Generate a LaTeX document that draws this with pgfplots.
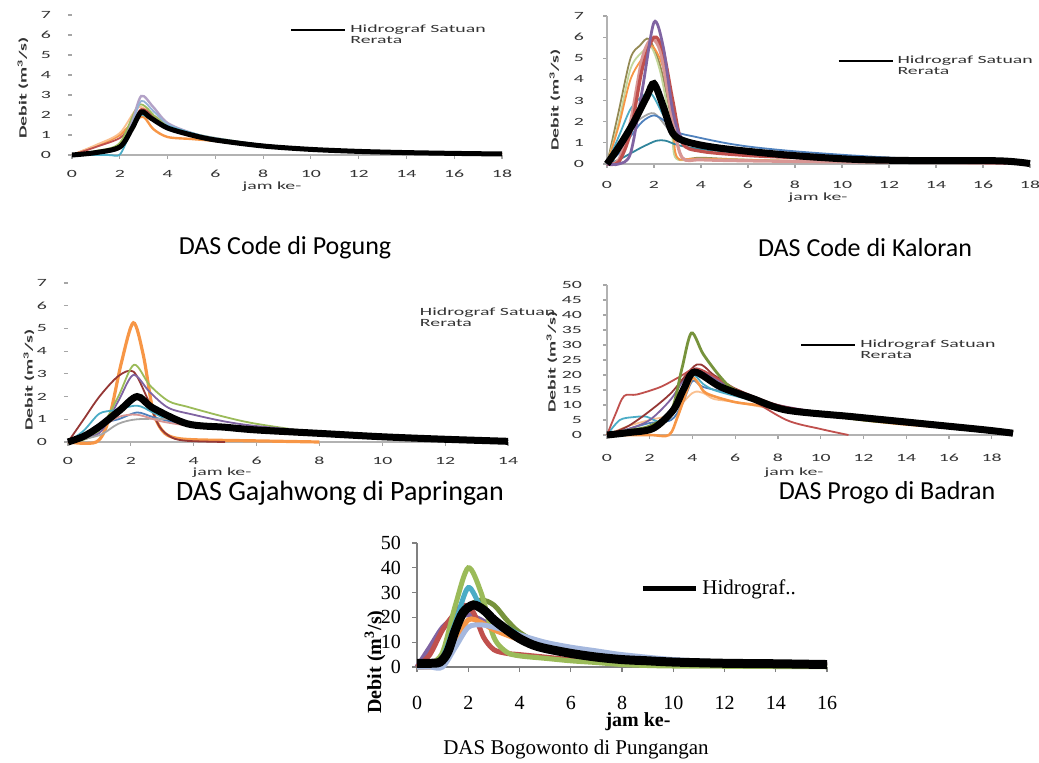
\documentclass[border=0pt]{standalone}
\usepackage{fontspec}
\setmainfont{Carlito}
\newfontfamily\blur[FakeStretch=1.8]{Carlito}
\newfontfamily\tnr{Liberation Serif}
\usepackage{pgfplots}
\pgfplotsset{compat=1.18}

\definecolor{cBlue}{HTML}{4F81BD}
\definecolor{cRed}{HTML}{C0504D}
\definecolor{cGreen}{HTML}{9BBB59}
\definecolor{cPurple}{HTML}{8064A2}
\definecolor{cAqua}{HTML}{4BACC6}
\definecolor{cOrange}{HTML}{F79646}
\definecolor{cLBlue}{HTML}{95B3D7}
\definecolor{cPink}{HTML}{D99694}
\definecolor{cLGreen}{HTML}{C3D69B}
\definecolor{cLav}{HTML}{B3A2C7}
\definecolor{cTan}{HTML}{FAC090}
\definecolor{cDRed}{HTML}{953735}
\definecolor{cDGreen}{HTML}{77933C}
\definecolor{cOlive}{HTML}{948A54}
\definecolor{cTeal}{HTML}{31859C}
\definecolor{cGray}{HTML}{A6A6A6}
\definecolor{cPale}{HTML}{A5B8DE}

\pgfplotsset{
  xl/.style={
    scale only axis, clip=false, xmin=0, ymin=0,
    axis x line=bottom, axis y line=left,
    axis line style={-, black!30, line width=0.6pt},
    tick style={black!35, line width=0.6pt}, tick align=outside, major tick length=2pt,
    ticklabel style={font=\blur\fontsize{5.5}{5.5}\selectfont, text=black!80},
    /pgf/number format/assume math mode=true,
    legend style={draw=none, fill=none, anchor=north west, inner sep=0pt,
      row sep=-0.5pt, column sep=1.5pt, cells={anchor=west}, nodes={inner sep=0.5pt},
      font=\blur\fontsize{5.5}{5.5}\selectfont, text=black!80},
    legend image code/.code={\draw[black, line width=1pt] (0pt,0pt) -- (27pt,0pt);},
    every axis plot/.append style={smooth, line width=0.9pt, forget plot},
  },
  mean/.style={black, line width=#1, smooth},
}

\begin{document}
\begin{tikzpicture}
\useasboundingbox (0,0) rectangle (519.5pt,381pt);

% ---------- DAS Code di Pogung
\begin{axis}[xl, at={(36pt,303.5pt)}, anchor=south west, width=215pt, height=70pt,
  xmax=18, ymax=7, xtick={0,2,...,18}, ytick={0,...,7},
  y axis line style={draw=none},
  xticklabel style={yshift=-2pt}, yticklabel style={xshift=-5pt},
  legend style={at={(rel axis cs:0.507,0.94)}}]
\addplot[cOrange, line width=1.2pt] coordinates {(0,0) (1,0.45) (2,1.0) (2.6,1.7) (3,1.9) (3.4,1.3) (4,0.9) (5,0.8) (6,0.7) (8,0.45) (10,0.3) (12,0.2) (14,0.12) (16,0.08) (18,0.05)};
\addplot[cTan] coordinates {(0,0) (1,0.5) (2,1.1) (2.8,2.4) (3.5,1.8) (4,1.3) (5,0.95) (6,0.75) (8,0.45) (10,0.28) (14,0.12) (18,0.05)};
\addplot[cRed] coordinates {(0,0) (1,0.4) (2,0.85) (2.5,1.5) (2.9,2.3) (3.5,1.9) (4,1.5) (5,1.05) (6,0.8) (8,0.5) (10,0.3) (12,0.2) (14,0.12) (16,0.08) (18,0.04)};
\addplot[cGreen] coordinates {(0,0) (1,0.2) (2,0.6) (2.8,2.5) (3.5,1.9) (4,1.5) (5,1.1) (6,0.85) (8,0.5) (10,0.3) (14,0.12) (18,0.05)};
\addplot[cLav, line width=1.2pt] coordinates {(0,0) (1,0.1) (2,0.35) (2.5,1.6) (2.9,2.95) (3.4,2.4) (4,1.6) (5,1.1) (6,0.8) (8,0.5) (10,0.3) (12,0.2) (14,0.1) (16,0.07) (18,0.04)};
\addplot[cLBlue] coordinates {(0,0) (1,0.15) (2,0.4) (2.5,1.5) (2.9,2.7) (3.4,2.2) (4,1.55) (5,1.1) (6,0.85) (8,0.5) (10,0.3) (12,0.2) (14,0.12) (16,0.08) (18,0.05)};
\addplot[cAqua] coordinates {(0,0) (1.5,0) (2,0.02) (2.4,1.0) (2.8,2.0) (3.3,1.8) (4,1.45) (5,1.1) (6,0.8) (8,0.5) (10,0.3) (12,0.2) (14,0.12) (16,0.08)};
\addplot[mean=2.5pt, forget plot=false] coordinates {(0,0) (1,0.12) (2,0.4) (2.5,1.3) (2.9,2.15) (3.3,1.85) (4,1.35) (5,1.0) (6,0.75) (8,0.45) (10,0.28) (12,0.18) (14,0.12) (16,0.08) (18,0.05)};
\addlegendentry{Hidrograf Satuan}
\addlegendimage{empty legend}\addlegendentry{Rerata}
\end{axis}

% ---------- DAS Code di Kaloran
\begin{axis}[xl, at={(303.5pt,299pt)}, anchor=south west, width=211.5pt, height=74pt,
  xmax=18, ymax=7, xtick={0,2,...,18}, ytick={0,...,7},
  xticklabel style={yshift=-3pt}, yticklabel style={xshift=-6pt},
  legend style={at={(rel axis cs:0.544,0.74)}}]
\addplot[cOlive] coordinates {(0,0) (0.5,2.5) (1,5.0) (1.4,5.6) (1.8,5.9) (2.3,4.5) (2.75,2.0) (2.95,0.3) (4,0.3) (6,0.2) (10,0.1) (17,0.05)};
\addplot[cLGreen] coordinates {(0,0) (0.5,2.0) (1,4.5) (1.5,5.3) (1.9,5.5) (2.3,4.2) (2.75,1.5) (2.95,0.25) (4,0.25) (6,0.2) (10,0.1) (17,0.05)};
\addplot[cOrange] coordinates {(0,0) (0.5,1.8) (1,4.0) (1.5,5.0) (1.9,5.6) (2.4,4.5) (2.8,1.8) (3,0.3) (4,0.25) (10,0.1) (17,0.05)};
\addplot[cAqua] coordinates {(0,0) (0.5,1.3) (1,2.6) (1.5,3.2) (1.9,3.3) (2.4,2.3) (3,1.2) (4,0.9) (6,0.65) (8,0.45) (10,0.3) (14,0.15) (17,0.05)};
\addplot[cGray] coordinates {(0,0) (0.5,0.8) (1,1.7) (1.5,2.2) (2,2.4) (2.5,1.8) (3,1.1) (4,0.9) (6,0.6) (8,0.4) (12,0.2) (17,0.05)};
\addplot[cBlue] coordinates {(0,0) (0.5,0.5) (1,1.3) (1.5,2.0) (2,2.3) (2.5,2.0) (3,1.5) (3.7,1.3) (5,1.0) (6.2,0.8) (8,0.6) (10.5,0.4) (13,0.25) (16.7,0.1) (17.2,0.02)};
\addplot[cTeal] coordinates {(0,0) (0.5,0.2) (1,0.5) (1.5,0.8) (2.1,1.1) (2.5,1.1) (3,0.9) (4,0.7) (6,0.5) (8,0.35) (12,0.2) (17,0.05)};
\addplot[cPink, line width=1.6pt] coordinates {(0,0) (0.5,0.2) (1,2.0) (1.5,5.0) (1.9,5.9) (2.3,5.2) (2.8,2.0) (3.2,0.3) (4,0.2) (6,0.15) (10,0.1) (17,0.05)};
\addplot[cRed, line width=1.6pt] coordinates {(0,0) (0.5,0.1) (1,1.5) (1.5,4.5) (2,6.0) (2.4,5.3) (2.8,3) (3.2,1.0) (4,0.6) (6,0.4) (8,0.3) (10,0.2) (14,0.1) (17,0.05)};
\addplot[cPurple, line width=1.4pt] coordinates {(0,0) (0.5,0) (1,0.5) (1.5,3.5) (2,6.7) (2.4,5.5) (2.8,2.5) (3.2,1.2) (4,0.9) (6,0.6) (8,0.4) (10,0.3) (12,0.2) (14,0.15) (16,0.1) (17,0.05)};
\addplot[mean=3.5pt, forget plot=false] coordinates {(0,0) (0.5,0.8) (1.1,1.9) (1.7,3.2) (2,3.8) (2.4,2.7) (2.8,1.45) (3.4,1.05) (4.8,0.75) (7.6,0.43) (10.5,0.22) (13.3,0.16) (16.7,0.15) (18,0.02)};
\addlegendentry{Hidrograf Satuan}
\addlegendimage{empty legend}\addlegendentry{Rerata}
\end{axis}

% ---------- DAS Gajahwong di Papringan
\begin{axis}[xl, at={(34pt,160pt)}, anchor=south west, width=220pt, height=79.5pt,
  xmax=14, ymax=7, xtick={0,2,...,14}, ytick={0,...,7},
  y axis line style={draw=none},
  xticklabel style={yshift=-2pt}, yticklabel style={xshift=-5pt},
  legend style={at={(rel axis cs:0.79,0.85)}}]
\addplot[cOrange, line width=1.6pt] coordinates {(0,0) (0.9,0) (1.3,1.0) (1.7,3.5) (2.08,5.25) (2.4,3.8) (2.7,1.4) (3.0,0.5) (3.35,0.2) (4,0.1) (6,0.05) (8,0)};
\addplot[cDRed] coordinates {(0,0) (0.5,1.0) (1,2.0) (1.6,2.9) (2.08,3.1) (2.5,2.0) (2.9,0.7) (3.3,0.2) (3.8,0.05) (5,0)};
\addplot[cGreen] coordinates {(0,0) (0.5,0.1) (1,0.5) (1.6,2.0) (2.1,3.4) (2.6,2.5) (3.2,1.8) (3.8,1.55) (5,1.1) (6,0.8) (8,0.4) (10,0.15) (12,0.08) (14,0.03)};
\addplot[cPurple] coordinates {(0,0) (1,0.4) (1.6,1.8) (2.08,2.95) (2.6,2.2) (3.2,1.5) (4,1.2) (5,0.9) (6,0.7) (8,0.45) (10,0.25) (12,0.12) (14,0.05)};
\addplot[cAqua] coordinates {(0,0) (0.5,0.5) (1,1.25) (1.5,1.4) (2.2,1.6) (2.7,1.3) (3.3,0.9) (4,0.75) (6,0.5) (8,0.35) (10,0.25) (12,0.15) (14,0.08)};
\addplot[cBlue] coordinates {(0,0) (0.5,0.3) (1,0.8) (1.6,1.0) (2.2,1.3) (2.7,1.1) (3.5,0.85) (5,0.65) (7,0.45) (10,0.25) (14,0.05)};
\addplot[cGray] coordinates {(0,0) (1,0.3) (1.6,0.8) (2.2,1.0) (3.3,1.0) (4,0.8) (6,0.55) (8,0.4) (10,0.25) (14,0.05)};
\addplot[cPink] coordinates {(0,0) (1,0.6) (1.6,1.1) (2.2,1.2) (3,0.9) (4,0.7) (6,0.5) (8,0.35) (11,0.2) (14,0.05)};
\addplot[mean=3.5pt] coordinates {(0,0) (0.5,0.25) (1,0.68) (1.65,1.4) (2.2,2.0) (2.7,1.5) (3.8,0.8) (5,0.65) (6,0.53) (8,0.38) (10,0.23) (12,0.12) (14,0.03)};
\addlegendimage{empty legend}\addlegendentry{Hidrograf Satuan}
\addlegendimage{empty legend}\addlegendentry{Rerata}
\end{axis}

% ---------- DAS Progo di Badran
\begin{axis}[xl, at={(303.5pt,163.5pt)}, anchor=south west, width=203pt, height=75pt,
  xmax=19, ymax=50, xtick={0,2,...,18}, ytick={0,5,...,50},
  xticklabel style={yshift=-4pt}, yticklabel style={xshift=-7pt},
  legend style={at={(rel axis cs:0.475,0.645)}}]
\addplot[cTan] coordinates {(0,0) (1,3) (2,5) (3,7) (4,14) (4.5,14) (5,12) (6,11) (8,8.5) (12,5) (16,2.5) (19,1)};
\addplot[cBlue] coordinates {(0,0) (1,2) (2,4) (3,5) (3.5,10) (4,18) (4.5,16) (6,13.5) (8,9.5) (10,7) (12,5) (14,3.8) (16,2.7) (19,1)};
\addplot[cAqua] coordinates {(0,0) (0.6,5) (1.3,6) (1.85,6.1) (2.5,4.4) (3,8) (3.5,14) (4,20) (4.5,17) (5,15) (6,13) (8,9.5) (10,7) (12,5) (14,3.8) (16,2.7) (19,1)};
\addplot[cOrange, line width=1.3pt] coordinates {(0,0) (2,0) (2.9,0) (3.3,6) (3.7,14) (4,19) (4.3,17) (4.65,13.9) (5.9,11.1) (7,10) (8,9) (10,7) (12,5) (14,3.5) (16,2.5) (19,1)};
\addplot[cPurple] coordinates {(0,0) (1,2) (2,5) (3,12) (4,22) (5,19) (6,15) (8,10) (12,5.5) (16,3) (19,1)};
\addplot[cDRed] coordinates {(0,0) (1,3) (2,8) (3,14) (4.2,23.5) (5,20) (6,15.5) (8,10) (10,7.5) (12,5.5) (14,4.2) (16,3) (19,1.2)};
\addplot[cRed] coordinates {(0,0) (0.4,7) (0.8,13) (1.4,13.5) (2.5,16) (3.4,19.4) (4.2,22.2) (5.3,18.3) (6.5,13) (8.4,5) (10,2) (11.3,0)};
\addplot[cDGreen, line width=1.4pt] coordinates {(0,0) (1,1.5) (2,3) (3,8) (3.5,22) (3.95,34) (4.5,27) (5.3,19.4) (6,15) (8,9.5) (10,7) (12,5) (14,3.8) (16,2.8) (19,1)};
\addplot[mean=3.5pt, forget plot=false] coordinates {(0,0) (1,0.8) (2.16,2.2) (3.1,8.3) (3.6,15.5) (4.1,21) (5.3,16.1) (6.8,12.2) (8.4,8.3) (11.5,6.1) (14.6,3.9) (17.7,1.7) (19,0.6)};
\addlegendentry{Hidrograf Satuan}
\addlegendimage{empty legend}\addlegendentry{Rerata}
\end{axis}

% ---------- DAS Bogowonto di Pungangan
\begin{axis}[scale only axis, clip=false, at={(208.5pt,47.5pt)}, anchor=south west,
  width=205pt, height=62pt, xmin=0, xmax=16, ymin=0, ymax=50,
  xtick={0,2,...,16}, ytick={0,10,...,50},
  axis x line=bottom, axis y line=left,
  axis line style={-, black!50, line width=0.6pt},
  tick style={black!50, line width=0.6pt}, tick align=outside, major tick length=2.5pt,
  ticklabel style={font=\tnr\fontsize{10}{10}\selectfont},
  /pgf/number format/assume math mode=true,
  xticklabel style={yshift=-8.5pt}, yticklabel style={xshift=-2pt},
  every axis plot/.append style={smooth, line width=2.5pt, forget plot},
  legend style={draw=none, fill=none, anchor=north west, inner sep=0pt,
    at={(rel axis cs:0.544,0.74)}, column sep=0pt,
    font=\tnr\fontsize{10.5}{10.5}\selectfont},
  legend image code/.code={\draw[black, line width=2.5pt] (0pt,0pt) -- (26.5pt,0pt);}]
\addplot[cPurple] coordinates {(0,0) (0.5,8) (1,16) (1.5,20) (2,21) (2.5,19) (3,16) (3.5,14) (4,12) (5,9) (6,7) (8,4) (10,2.5) (12,1.8) (14,1.3) (16,1)};
\addplot[cRed] coordinates {(0,0) (0.5,5) (1,15) (1.5,22) (1.8,25) (2.2,22) (2.6,12) (3,7) (3.5,5.5) (4,5) (5,4) (6,3) (8,2) (10,1.5) (12,1) (14,0.8) (16,0.6)};
\addplot[cDGreen] coordinates {(0,0) (0.5,1) (1,5) (1.5,15) (2,24) (2.5,27) (3,25) (3.5,19) (4,14) (5,8) (6,5) (7,3) (8,2) (10,1) (12,0.6) (16,0.3)};
\addplot[cGreen] coordinates {(0,0) (0.5,1) (1,6) (1.5,25) (2,40) (2.5,30) (3,12) (3.5,6) (4,4.5) (5,3.5) (6,2.5) (7,1.8) (8,1) (9,0.6) (10,0.4) (12,0.3) (14,0.2) (16,0.1)};
\addplot[cAqua] coordinates {(0,0) (0.5,0.5) (1,4) (1.5,18) (2,32) (2.5,24) (3,19) (3.5,16) (4,13) (5,9) (6,6.5) (7,5) (8,3.5) (10,2) (12,1.3) (14,1) (16,0.8)};
\addplot[cOrange] coordinates {(0,0) (0.5,0) (1,1) (1.5,10) (2,19) (2.5,18) (3,15) (4,11) (5,8) (6,6) (8,4) (10,2.5) (12,1.7) (14,1.3) (16,1)};
\addplot[cPale] coordinates {(0,0) (0.5,0) (1,0) (1.5,8) (2,16) (2.5,17) (3,16) (3.5,14.5) (4,13) (5,10) (6,8) (7,6.5) (8,5) (10,3) (12,2) (14,1.5) (16,1)};
\addplot[mean=4.5pt, forget plot=false] coordinates {(0,1.5) (0.5,1.5) (0.9,2) (1.2,6) (1.5,15) (1.8,22) (2.2,25) (2.6,23) (3,19) (3.5,15) (4,11.5) (4.5,9) (5,7.5) (6,5.5) (7,4) (8,3) (9,2.5) (10,2) (12,1.5) (14,1.3) (16,1)};
\addlegendentry{Hidrograf..}
\end{axis}

% axis labels and titles
\node[rotate=90, font=\blur\bfseries\fontsize{5.5}{5.5}\selectfont, text=black!80] at (11.5pt,337pt) {Debit (m\textsuperscript{3}/s)};
\node[font=\blur\fontsize{5.5}{5.5}\selectfont, text=black!80] at (136pt,287.5pt) {jam ke-};
\node[rotate=90, font=\blur\bfseries\fontsize{5.5}{5.5}\selectfont, text=black!80] at (277.5pt,331pt) {Debit (m\textsuperscript{3}/s)};
\node[font=\blur\fontsize{5.5}{5.5}\selectfont, text=black!80] at (409pt,282pt) {jam ke-};
\node[rotate=90, font=\blur\bfseries\fontsize{5.5}{5.5}\selectfont, text=black!80] at (14.5pt,191pt) {Debit (m\textsuperscript{3}/s)};
\node[font=\blur\fontsize{5.5}{5.5}\selectfont, text=black!80] at (111pt,144.5pt) {jam ke-};
\node[rotate=90, font=\blur\bfseries\fontsize{5.5}{5.5}\selectfont, text=black!80] at (276pt,200pt) {Debit (m\textsuperscript{3}/s)};
\node[font=\blur\fontsize{5.5}{5.5}\selectfont, text=black!80] at (397pt,144.5pt) {jam ke-};

\node[font=\fontsize{13}{13}\selectfont] at (142.5pt,257pt) {DAS Code di Pogung};
\node[font=\fontsize{13}{13}\selectfont] at (432.5pt,257pt) {DAS Code di Kaloran};
\node[font=\fontsize{14}{14}\selectfont] at (170pt,134.5pt) {DAS Gajahwong di Papringan};
\node[font=\fontsize{13}{13}\selectfont] at (443.5pt,134.5pt) {DAS Progo di Badran};

\node[rotate=90, font=\tnr\bfseries\fontsize{10}{10}\selectfont] at (187.5pt,50pt) {Debit (m\textsuperscript{3}/s)};
\node[font=\tnr\bfseries\fontsize{10}{10}\selectfont] at (319pt,20pt) {jam ke-};
\node[font=\tnr\fontsize{10.5}{10.5}\selectfont] at (288pt,6.5pt) {DAS Bogowonto di Pungangan};
\end{tikzpicture}
\end{document}
